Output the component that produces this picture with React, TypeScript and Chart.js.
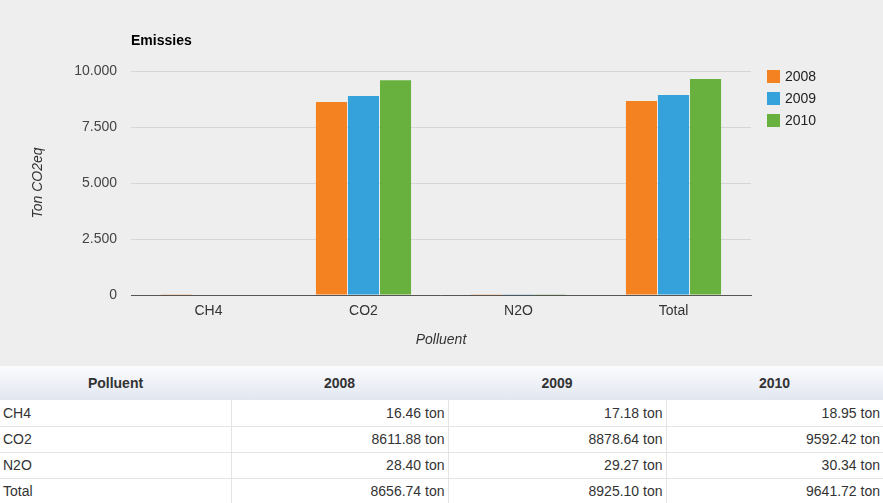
import React, { useEffect, useRef } from "react";
import { Chart, registerables } from "chart.js";

Chart.register(...registerables);

const categories = ["CH4", "CO2", "N2O", "Total"];
const years = ["2008", "2009", "2010"];
const values2008 = [16.46, 8611.88, 28.4, 8656.74];
const values2009 = [17.18, 8878.64, 29.27, 8925.1];
const values2010 = [18.95, 9592.42, 30.34, 9641.72];
const yTicks = [0, 2500, 5000, 7500, 10000];
const colors = ["#f58220", "#35a2dc", "#68b13f"];
const chartTitle = "Emissies";
const yTitle = "Ton CO2eq";
const xTitle = "Polluent";
const unit = "ton";

const FONT = "'Liberation Sans', Arial, Helvetica, sans-serif";

const fmtThousands = (v: number) =>
  String(Math.round(v)).replace(/\B(?=(\d{3})+(?!\d))/g, ".");

const titleLegendPlugin = {
  id: "titleLegend",
  afterDraw(chart: any) {
    const ctx = chart.ctx;
    const { left, right, top } = chart.chartArea;
    ctx.save();
    ctx.fillStyle = "#000";
    ctx.font = `bold 14px ${FONT}`;
    ctx.textAlign = "left";
    ctx.textBaseline = "middle";
    ctx.fillText(chartTitle, left, 41);
    chart.data.datasets.forEach((ds: any, i: number) => {
      const y = top - 1 + i * 22;
      ctx.fillStyle = ds.backgroundColor;
      ctx.fillRect(right + 16, y, 13, 13);
      ctx.fillStyle = "#222";
      ctx.font = `14px ${FONT}`;
      ctx.fillText(ds.label, right + 34, y + 7);
    });
    ctx.restore();
  },
};

function EmissionsChart() {
  const ref = useRef<HTMLCanvasElement>(null);
  useEffect(() => {
    if (!ref.current) return;
    const series = [values2008, values2009, values2010];
    const chart = new Chart(ref.current, {
      type: "bar",
      data: {
        labels: categories,
        datasets: years.map((y, i) => ({
          label: y,
          data: series[i],
          backgroundColor: colors[i],
          borderWidth: 0,
          barPercentage: 0.97,
          categoryPercentage: 0.62,
        })),
      },
      options: {
        animation: false,
        responsive: false,
        maintainAspectRatio: false,
        layout: { padding: { top: 71, right: 132, left: 20, bottom: 0 } },
        plugins: {
          legend: { display: false },
          title: { display: false },
          tooltip: { enabled: false },
        },
        scales: {
          x: {
            grid: { display: false, drawTicks: false },
            border: { display: true, color: "#555", width: 1 },
            ticks: { color: "#333", font: { family: FONT, size: 14 }, padding: 8 },
            title: {
              display: true,
              text: xTitle,
              color: "#333",
              font: { family: FONT, size: 14, style: "italic" },
              padding: { top: 0, bottom: 17 },
            },
            afterFit(scale: any) {
              scale.height = 71;
            },
          },
          y: {
            min: 0,
            max: 10000,
            afterBuildTicks(scale: any) {
              scale.ticks = yTicks.map((v) => ({ value: v }));
            },
            grid: { color: "#d6d6d6", lineWidth: 1, drawTicks: false },
            border: { display: false },
            ticks: {
              color: "#444",
              font: { family: FONT, size: 14 },
              padding: 14,
              callback: (v: any) => fmtThousands(Number(v)),
            },
            title: {
              display: true,
              text: yTitle,
              color: "#333",
              font: { family: FONT, size: 14, style: "italic" },
              padding: { top: 10, bottom: 0 },
            },
            afterFit(scale: any) {
              scale.width = 111;
            },
          },
        },
      },
      plugins: [titleLegendPlugin],
    });
    return () => chart.destroy();
  }, []);
  return (
    <div style={{ background: "#eeeeee", height: 366 }}>
      <canvas ref={ref} width={883} height={366} style={{ display: "block" }} />
    </div>
  );
}

function DataTable() {
  const series = [values2008, values2009, values2010];
  const border = "1px solid #e4e4e4";
  return (
    <table
      style={{
        borderCollapse: "collapse",
        width: 883,
        tableLayout: "fixed",
        font: `14px ${FONT}`,
        color: "#333",
      }}
    >
      <colgroup>
        <col style={{ width: 231 }} />
        <col style={{ width: 217 }} />
        <col style={{ width: 218 }} />
        <col style={{ width: 217 }} />
      </colgroup>
      <thead>
        <tr
          style={{
            height: 34,
            background: "linear-gradient(#fcfcfe, #e1e6f0)",
          }}
        >
          <th style={{ fontWeight: "bold", textAlign: "center", padding: 0 }}>{xTitle}</th>
          {years.map((y) => (
            <th key={y} style={{ fontWeight: "bold", textAlign: "center", padding: 0 }}>
              {y}
            </th>
          ))}
        </tr>
      </thead>
      <tbody>
        {categories.map((c, r) => (
          <tr key={c} style={{ height: 26, background: "#fff" }}>
            <td style={{ padding: "0 3px", borderBottom: border, borderRight: border }}>{c}</td>
            {series.map((s, i) => (
              <td
                key={i}
                style={{
                  padding: "0 3px",
                  textAlign: "right",
                  borderBottom: border,
                  borderRight: i < 2 ? border : "none",
                }}
              >
                {s[r].toFixed(2)} {unit}
              </td>
            ))}
          </tr>
        ))}
      </tbody>
    </table>
  );
}

export default function App() {
  useEffect(() => {
    document.body.style.margin = "0";
  }, []);
  if (typeof document !== "undefined") document.body.style.margin = "0";
  return (
    <div style={{ width: 883 }}>
      <EmissionsChart />
      <DataTable />
    </div>
  );
}
